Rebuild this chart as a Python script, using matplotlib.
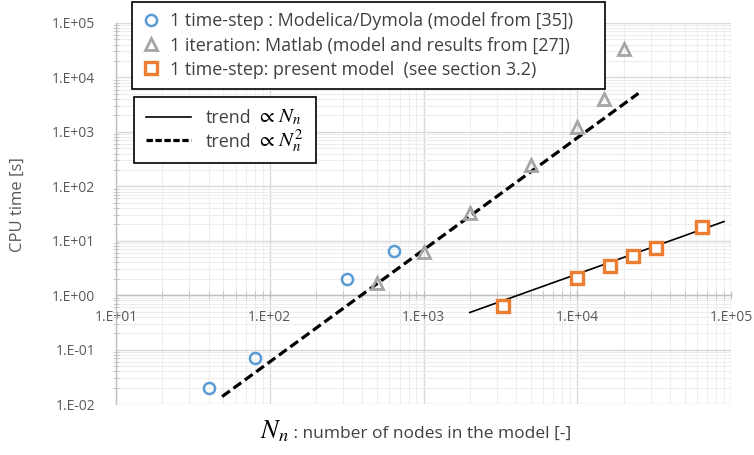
import matplotlib
matplotlib.use("Agg")
import matplotlib.pyplot as plt
from matplotlib.lines import Line2D
from matplotlib.ticker import LogLocator, FuncFormatter, NullFormatter
import numpy as np

plt.rcParams['font.family'] = ['Open Sans', 'DejaVu Sans']
plt.rcParams['mathtext.fontset'] = 'stix'

# ---- data ----
dymola_x = [40, 80, 320, 640]
dymola_y = [0.02, 0.07, 2.0, 6.5]

matlab_x = [500, 1000, 2000, 5000, 10000, 15000, 20000]
matlab_y = [1.7, 6.2, 32, 250, 1230, 4000, 33000]

present_x = [3300, 10000, 16400, 23000, 32600, 64600]
present_y = [0.64, 2.08, 3.5, 5.2, 7.2, 17.8]

trend1_x = [2000, 90000]
trend1_y = [0.48, 22.5]
trend2_x = [49, 25000]
trend2_y = [0.0137, 5100]

legend1_labels = ["1 time-step : Modelica/Dymola (model from [35])",
                  "1 iteration: Matlab (model and results from [27])",
                  "1 time-step: present model  (see section 3.2)"]
legend2_labels = ["trend", "trend"]
legend2_math = [r"$\propto\,N_n$", r"$\propto\,N_n^2$"]

blue = '#5B9BD5'
gray = '#A5A5A5'
orange = '#ED7D31'
txt = '#595959'

W, H = 754, 455
fig = plt.figure(figsize=(W / 100, H / 100), dpi=100)
rect = [116 / W, 1 - 404 / H, (731 - 116) / W, (404 - 23) / H]


def setup(a):
    a.set_xscale('log')
    a.set_yscale('log')
    a.set_xlim(10, 1e5)
    a.set_ylim(1e-2, 1e5)
    a.xaxis.set_major_locator(LogLocator(base=10, numticks=10))
    a.yaxis.set_major_locator(LogLocator(base=10, numticks=10))
    a.xaxis.set_minor_locator(LogLocator(base=10, subs=np.arange(2, 10), numticks=10))
    a.yaxis.set_minor_locator(LogLocator(base=10, subs=np.arange(2, 10), numticks=10))


# background grid axes
gax = fig.add_axes(rect, zorder=0)
setup(gax)
gax.grid(True, which='minor', color='#EDEDED', linewidth=0.8)
gax.grid(True, which='major', color='#D9D9D9', linewidth=1.0)
gax.tick_params(which='both', length=0, labelbottom=False, labelleft=False)
for s in gax.spines.values():
    s.set_visible(False)

ax = fig.add_axes(rect, zorder=1)
ax.patch.set_visible(False)
setup(ax)

fmt = FuncFormatter(lambda v, p: "1.E{:+03d}".format(int(round(np.log10(v)))))
ax.xaxis.set_major_formatter(fmt)
ax.yaxis.set_major_formatter(fmt)
ax.xaxis.set_minor_formatter(NullFormatter())
ax.yaxis.set_minor_formatter(NullFormatter())

for s in ['top', 'right']:
    ax.spines[s].set_visible(False)
ax.spines['bottom'].set_position(('data', 1.0))
ax.spines['bottom'].set_color('#BFBFBF')
ax.spines['left'].set_color('#BFBFBF')
ax.spines['bottom'].set_linewidth(1.0)
ax.spines['left'].set_linewidth(1.0)

ax.tick_params(axis='x', which='both', direction='inout', length=6, color='#BFBFBF',
               labelsize=10, labelcolor=txt, pad=8)
ax.tick_params(axis='y', which='major', direction='out', length=0, labelsize=10,
               labelcolor=txt, pad=15)
ax.tick_params(axis='y', which='minor', direction='inout', length=4, color='#BFBFBF')

# data
ax.plot(trend2_x, trend2_y, color='black', linestyle=(0, (3.0, 1.4)), linewidth=2.3, zorder=3)
ax.plot(trend1_x, trend1_y, color='black', linestyle='-', linewidth=1.2, zorder=3)
ax.plot(dymola_x, dymola_y, linestyle='none', marker='o', markersize=8,
        markerfacecolor='none', markeredgecolor=blue, markeredgewidth=1.8, zorder=4)
ax.plot(matlab_x, matlab_y, linestyle='none', marker='^', markersize=8.5,
        markerfacecolor='none', markeredgecolor=gray, markeredgewidth=2.0, zorder=4)
ax.plot(present_x, present_y, linestyle='none', marker='s', markersize=8.5,
        markerfacecolor='white', markeredgecolor=orange, markeredgewidth=2.4, zorder=5)

# legend 1
h1 = [Line2D([], [], linestyle='none', marker='o', markersize=8, markerfacecolor='none',
             markeredgecolor=blue, markeredgewidth=1.8),
      Line2D([], [], linestyle='none', marker='^', markersize=8.5, markerfacecolor='none',
             markeredgecolor=gray, markeredgewidth=2.0),
      Line2D([], [], linestyle='none', marker='s', markersize=8.5, markerfacecolor='white',
             markeredgecolor=orange, markeredgewidth=2.4)]
leg1 = fig.legend(h1, legend1_labels, loc='upper left',
                  bbox_to_anchor=(132 / W, 1 - 2 / H, (605 - 132) / W, 0), mode='expand',
                  fontsize=12.9, frameon=True,
                  fancybox=False, edgecolor='black', framealpha=1, borderpad=0.55,
                  labelspacing=0.36, handlelength=1.0, handletextpad=0.55, borderaxespad=0)
leg1.get_frame().set_linewidth(1.2)
for t in leg1.get_texts():
    t.set_color('#404040')

h2 = [Line2D([], [], color='black', linestyle='-', linewidth=1.2),
      Line2D([], [], color='black', linestyle=(0, (2.0, 0.8)), linewidth=2.3)]
leg2 = fig.legend(h2, legend2_labels, loc='upper left',
                  bbox_to_anchor=(134 / W, 1 - 97 / H, (316 - 134) / W, 0), mode='expand',
                  fontsize=12.9, frameon=True,
                  fancybox=False, edgecolor='black', framealpha=1, borderpad=0.68,
                  labelspacing=0.3, handlelength=2.5, handletextpad=0.85, borderaxespad=0)
leg2.get_frame().set_linewidth(1.2)
for t in leg2.get_texts():
    t.set_color('#404040')

# math part of legend 2 labels, placed right after each "trend" text
fig.canvas.draw()
for t, m in zip(leg2.get_texts(), legend2_math):
    bb = t.get_window_extent()
    fig.text((bb.x1 + 4) / W, (bb.y0 + 4.5) / H, m, ha='left', va='baseline',
             fontsize=15, color='black', zorder=10)

# axis labels
fig.text(18 / W, 1 - 205 / H, "CPU time [s]", rotation=90, ha='center', va='center',
         fontsize=12, color=txt)
fig.text(289 / W, 1 - 438 / H, r"$N_n$", ha='right', va='baseline',
         fontsize=19, color='black')
fig.text(289 / W, 1 - 438 / H, " : number of nodes in the model [-]", ha='left', va='baseline',
         fontsize=12.5, color='#404040')

fig.savefig('out.png', dpi=100)
